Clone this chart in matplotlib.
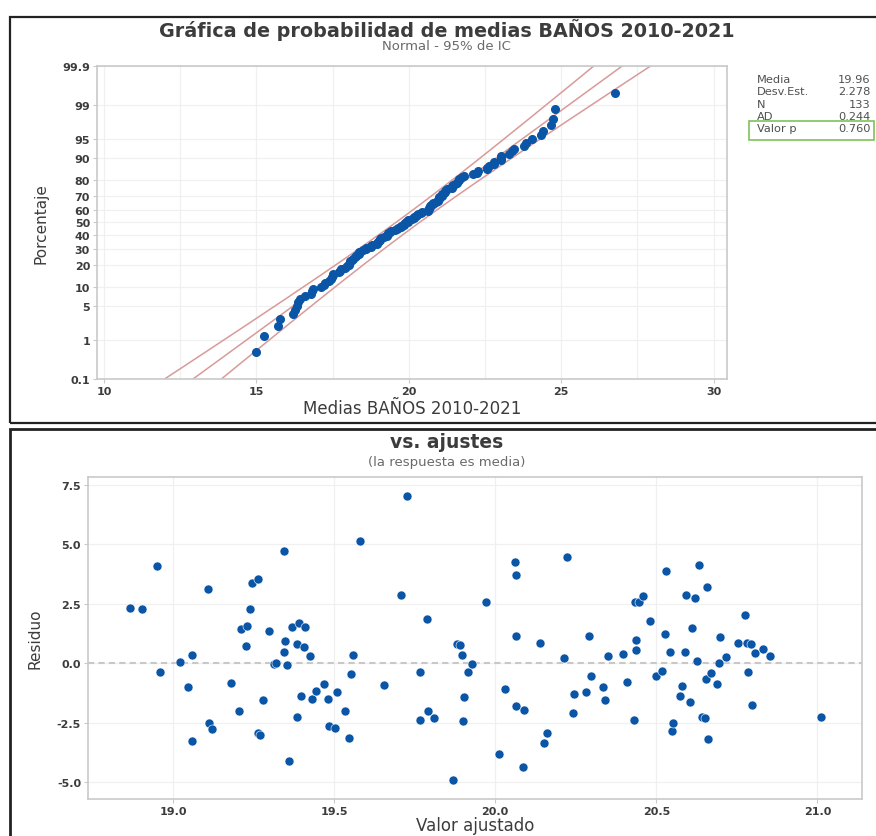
from statistics import NormalDist

import numpy as np
import matplotlib.pyplot as plt
from matplotlib.patches import Rectangle

plt.rcParams['font.family'] = ['DejaVu Sans']

# valores ajustados y residuos (la respuesta es media)
ajuste = [18.865, 18.905, 18.95, 18.96, 19.02, 19.045, 19.06, 19.06, 19.107, 19.11,
          19.12, 19.18, 19.205, 19.21, 19.23, 19.226, 19.24, 19.245, 19.264, 19.264,
          19.27, 19.28, 19.297, 19.312, 19.32, 19.343, 19.343, 19.347, 19.355, 19.36,
          19.368, 19.384, 19.384, 19.392, 19.398, 19.405, 19.41, 19.425, 19.43, 19.445,
          19.47, 19.48, 19.485, 19.504, 19.51, 19.533, 19.547, 19.552, 19.557, 19.58,
          19.656, 19.708, 19.727, 19.768, 19.768, 19.787, 19.79, 19.81, 19.87, 19.88,
          19.89, 19.897, 19.904, 19.90, 19.915, 19.927, 19.97, 20.013, 20.03, 20.06,
          20.065, 20.065, 20.065, 20.09, 20.085, 20.14, 20.153, 20.16, 20.213, 20.223,
          20.24, 20.246, 20.282, 20.292, 20.298, 20.336, 20.34, 20.35, 20.398, 20.408,
          20.43, 20.434, 20.437, 20.437, 20.446, 20.46, 20.48, 20.50, 20.518, 20.527,
          20.53, 20.543, 20.548, 20.553, 20.574, 20.579, 20.588, 20.593, 20.605, 20.612,
          20.62, 20.625, 20.634, 20.641, 20.651, 20.653, 20.657, 20.66, 20.669, 20.69,
          20.695, 20.698, 20.717, 20.753, 20.774, 20.786, 20.783, 20.795, 20.798, 20.807,
          20.832, 20.853, 21.01]
residuo = [2.31, 2.29, 4.07, -0.35, 0.04, -0.98, 0.36, -3.27, 3.13, -2.52,
           -2.75, -0.83, -1.99, 1.43, 1.56, 0.73, 2.27, 3.37, 3.53, -2.93,
           -3.02, -1.54, 1.37, -0.03, 0.0, 4.70, 0.49, 0.95, -0.06, -4.10,
           1.53, -2.26, 0.79, 1.70, -1.36, 0.70, 1.54, 0.32, -1.51, -1.15,
           -0.86, -1.51, -2.62, -2.71, -1.23, -2.02, -3.13, -0.46, 0.34, 5.15,
           -0.90, 2.85, 7.03, -0.38, -2.40, 1.87, -2.03, -2.31, -4.89, 0.80,
           0.76, 0.35, -1.40, -2.45, -0.38, -0.04, 2.59, -3.80, -1.09, 4.26,
           3.70, 1.15, -1.82, -1.95, -4.38, 0.84, -3.34, -2.92, 0.21, 4.45,
           -2.08, -1.29, -1.22, 1.15, -0.55, -1.01, -1.54, 0.29, 0.39, -0.80,
           -2.37, 2.58, 0.98, 0.56, 2.59, 2.82, 1.78, -0.53, -0.34, 1.21,
           3.88, 0.46, -2.83, -2.51, -1.39, -0.94, 0.49, 2.86, -1.63, 1.50,
           2.76, 0.10, 4.15, -2.26, -2.30, -0.67, 3.20, -3.18, -0.41, -0.86,
           0.0, 1.11, 0.25, 0.87, 2.03, -0.38, 0.86, 0.80, -1.77, 0.45,
           0.59, 0.29, -2.26]

# estadisticos del ajuste normal
media = 19.96
desv_est = 2.278
n_obs = 133
ad = 0.244
valor_p = 0.760

pct_ticks = [0.1, 1, 5, 10, 20, 30, 40, 50, 60, 70, 80, 90, 95, 99, 99.9]
pct_labels = ['0.1', '1', '5', '10', '20', '30', '40', '50', '60', '70', '80', '90', '95', '99', '99.9']
x_ticks_prob = [10, 15, 20, 25, 30]
x_ticks_res = [19.0, 19.5, 20.0, 20.5, 21.0]
y_ticks_res = [-5.0, -2.5, 0.0, 2.5, 5.0, 7.5]

azul = '#0a55a5'
rojo = '#d99a9a'
texto = '#3c3c3c'
gris_eje = '#c9c9c9'
gris_grid = '#f0f0f0'

nd = NormalDist()
medias = np.sort(np.array(ajuste) + np.array(residuo))
n = len(medias)
rangos = (np.arange(1, n + 1) - 0.3) / (n + 0.4)
z_obs = np.array([nd.inv_cdf(p) for p in rangos])

fig = plt.figure(figsize=(8.76, 8.37), dpi=100)
fig.patch.set_facecolor('white')

# marcos de las dos graficas
fig.patches.append(Rectangle((0.0114, 0.4934), 1.2, 0.485, transform=fig.transFigure,
                             fill=False, edgecolor='#222222', lw=1.6))
fig.patches.append(Rectangle((0.0114, -0.2), 1.2, 0.6865, transform=fig.transFigure,
                             fill=False, edgecolor='#222222', lw=2.0))


def estilo(ax):
    for s in ax.spines.values():
        s.set_color(gris_eje)
        s.set_linewidth(1.2)
    ax.tick_params(colors=texto, labelsize=8, length=3, width=0.8, color=gris_eje, pad=2)
    for lbl in ax.get_xticklabels() + ax.get_yticklabels():
        lbl.set_fontweight('bold')
    ax.set_axisbelow(True)


# --- grafica de probabilidad normal ---
ax1 = fig.add_axes([0.1107, 0.546, 0.719, 0.374])
z_lim = nd.inv_cdf(0.001)
ax1.set_ylim(z_lim, -z_lim)
ax1.set_xlim(9.77, 30.43)

zz = np.linspace(-4, 4, 200)
ajuste_z = media + zz * desv_est
ancho = 1.96 * desv_est * np.sqrt((1 + zz ** 2 / 2) / n_obs)
ax1.plot(ajuste_z, zz, color=rojo, lw=1.1)
ax1.plot(ajuste_z - ancho, zz, color=rojo, lw=1.1)
ax1.plot(ajuste_z + ancho, zz, color=rojo, lw=1.1)
ax1.plot(medias, z_obs, 'o', color=azul, ms=5.5, mec=azul)

ax1.set_yticks([nd.inv_cdf(p / 100) for p in pct_ticks])
ax1.set_yticklabels(pct_labels)
ax1.set_xticks(x_ticks_prob)
ax1.set_xticks(np.arange(12.5, 30, 5), minor=True)
ax1.tick_params(axis='x', which='minor', length=0)
ax1.grid(True, which='both', color=gris_grid, lw=0.9)
estilo(ax1)
ax1.set_xlabel('Medias BAÑOS 2010-2021', fontsize=12, color=texto, labelpad=2)
ax1.set_ylabel('Porcentaje', fontsize=11, color=texto, labelpad=10)

fig.text(0.51, 0.964, 'Gráfica de probabilidad de medias BAÑOS 2010-2021',
         ha='center', va='center', fontsize=13.8, fontweight='bold', color=texto)
fig.text(0.51, 0.944, 'Normal - 95% de IC', ha='center', va='center', fontsize=9.5, color='#6a6a6a')

# tabla de estadisticos
filas = [('Media', f'{media:.2f}'), ('Desv.Est.', f'{desv_est:.3f}'), ('N', str(n_obs)),
         ('AD', f'{ad:.3f}'), ('Valor p', f'{valor_p:.3f}')]
for i, (nom, val) in enumerate(filas):
    y = 0.9045 - i * 0.0148
    fig.text(0.864, y, nom, ha='left', va='center', fontsize=8.2, color='#505050')
    fig.text(0.994, y, val, ha='right', va='center', fontsize=8.2, color='#505050')
fig.patches.append(Rectangle((0.855, 0.831), 0.143, 0.023, transform=fig.transFigure,
                             fill=False, edgecolor='#7cc45a', lw=1.2))

# --- residuos vs. ajustes ---
ax2 = fig.add_axes([0.1005, 0.0442, 0.884, 0.385])
ax2.scatter(ajuste, residuo, s=42, color=azul, edgecolors='white', linewidths=0.4, zorder=3)
ax2.axhline(0, color='#c8c8c8', lw=1.5, ls=(0, (3, 2)), zorder=2)
ax2.set_xlim(18.736, 21.14)
ax2.set_ylim(-5.71, 7.84)
ax2.set_xticks(x_ticks_res)
ax2.set_xticklabels([f'{v:.1f}' for v in x_ticks_res])
ax2.set_yticks(y_ticks_res)
ax2.set_yticklabels([f'{v:.1f}' for v in y_ticks_res])
ax2.grid(True, color=gris_grid, lw=0.9)
estilo(ax2)
ax2.set_xlabel('Valor ajustado', fontsize=12, color=texto, labelpad=0)
ax2.set_ylabel('Residuo', fontsize=11, color=texto, labelpad=10)

fig.text(0.51, 0.471, 'vs. ajustes', ha='center', va='center', fontsize=13.5,
         fontweight='bold', color=texto)
fig.text(0.51, 0.447, '(la respuesta es media)', ha='center', va='center', fontsize=9.5, color='#6a6a6a')

fig.savefig('out.png', dpi=100, facecolor='white')
